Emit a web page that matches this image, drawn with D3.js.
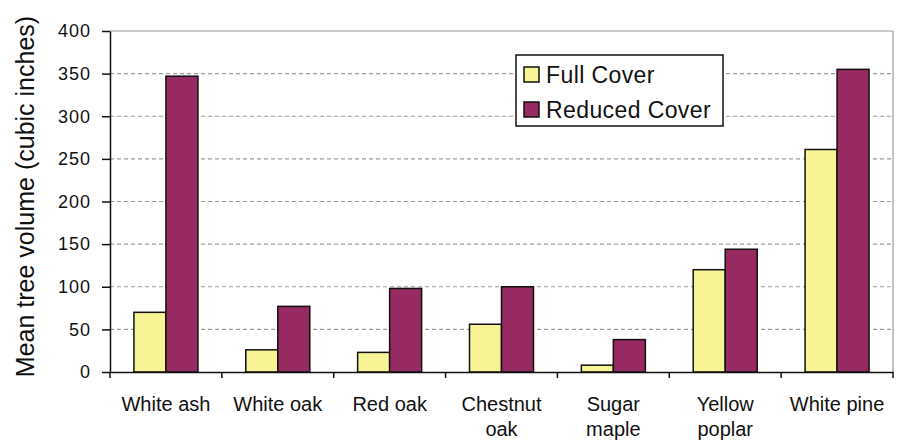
<!DOCTYPE html>
<html>
<head>
<meta charset="utf-8">
<script src="https://cdn.jsdelivr.net/npm/d3@7"></script>
<style>
  html, body { margin: 0; padding: 0; background: #fff; }
  svg { display: block; font-family: "Liberation Sans", Arial, sans-serif; }
</style>
</head>
<body>
<svg id="chart" width="898" height="440"></svg>
<script>
const categories = [["White ash"], ["White oak"], ["Red oak"], ["Chestnut", "oak"], ["Sugar", "maple"], ["Yellow", "poplar"], ["White pine"]];
const seriesNames = ["Full Cover", "Reduced Cover"];
const fullCover = [70, 26, 23, 56, 8, 120, 261];
const reducedCover = [347, 77, 98, 100, 38, 144, 355];
const yTicks = [0, 50, 100, 150, 200, 250, 300, 350, 400];
const colors = ["#F7F495", "#962A61"];

(function () {
const svg = d3.select("#chart");
const mLeft = 110, mRight = 893, mTop = 31, mBottom = 372;
const textColor = "#111";

const catKeys = categories.map(d => d.join(" "));
const x0 = d3.scaleBand().domain(catKeys).range([mLeft, mRight]).padding(0);
const bw = x0.bandwidth();
const x1 = d3.scaleBand().domain(seriesNames).range([bw / 2 - 32, bw / 2 + 32]).padding(0);
const y = d3.scaleLinear().domain([0, 400]).range([mBottom, mTop]);

// gridlines
svg.append("g").selectAll("line").data(yTicks.filter(t => t > 0 && t < 400)).join("line")
  .attr("x1", mLeft).attr("x2", mRight)
  .attr("y1", d => y(d)).attr("y2", d => y(d))
  .attr("stroke", "#9a9a9a").attr("stroke-width", 1.2).attr("stroke-dasharray", "4,3");

// plot border top and right
svg.append("line").attr("x1", mLeft).attr("x2", mRight).attr("y1", y(400)).attr("y2", y(400))
  .attr("stroke", "#9a9a9a").attr("stroke-width", 1.2);
svg.append("line").attr("x1", mRight).attr("x2", mRight).attr("y1", y(400)).attr("y2", y(0))
  .attr("stroke", "#9a9a9a").attr("stroke-width", 1.2);

// bars
const rows = catKeys.map((c, i) => ({ cat: c, values: [fullCover[i], reducedCover[i]] }));
const groups = svg.append("g").selectAll("g").data(rows).join("g")
  .attr("transform", d => `translate(${x0(d.cat)},0)`);
groups.selectAll("rect").data(d => d.values.map((v, j) => ({ key: seriesNames[j], v, j }))).join("rect")
  .attr("x", d => x1(d.key))
  .attr("width", x1.bandwidth())
  .attr("y", d => y(d.v))
  .attr("height", d => y(0) - y(d.v))
  .attr("fill", d => colors[d.j])
  .attr("stroke", "#111").attr("stroke-width", 1.5);

// y axis
const yAxis = d3.axisLeft(y).tickValues(yTicks).tickSize(8).tickSizeOuter(0).tickPadding(11);
const gy = svg.append("g").attr("transform", `translate(${mLeft},0)`).call(yAxis);
gy.select(".domain").attr("stroke", "#111").attr("stroke-width", 1.5);
gy.selectAll(".tick line").attr("stroke", "#111").attr("stroke-width", 1.5);
gy.selectAll(".tick text").attr("font-size", 18).attr("letter-spacing", "1px")
  .attr("fill", textColor).attr("font-family", "Liberation Sans, Arial, sans-serif");

// x axis
const xAxis = d3.axisBottom(x0).tickSize(0).tickSizeOuter(0).tickFormat("");
const gx = svg.append("g").attr("transform", `translate(0,${mBottom})`).call(xAxis);
gx.select(".domain").attr("stroke", "#111").attr("stroke-width", 1.5);
const bounds = catKeys.map(c => x0(c)).concat([mRight]);
gx.append("g").selectAll("line").data(bounds).join("line")
  .attr("x1", d => d).attr("x2", d => d).attr("y1", 0).attr("y2", 6)
  .attr("stroke", "#111").attr("stroke-width", 1.5);

// x labels
const xl = svg.append("g").selectAll("text").data(categories).join("text")
  .attr("x", (d, i) => x0(catKeys[i]) + bw / 2)
  .attr("y", 411)
  .attr("text-anchor", "middle")
  .attr("font-size", 20).attr("fill", textColor);
xl.selectAll("tspan").data(d => d).join("tspan")
  .attr("x", function () { return d3.select(this.parentNode).attr("x"); })
  .attr("dy", (d, i) => i === 0 ? 0 : 25)
  .text(d => d);

// y title
svg.append("text")
  .attr("transform", "translate(33.5,196.5) rotate(-90)")
  .attr("text-anchor", "middle")
  .attr("font-size", 25).attr("fill", textColor)
  .text("Mean tree volume (cubic inches)");

// legend
const lg = svg.append("g");
lg.append("rect").attr("x", 516).attr("y", 55).attr("width", 207).attr("height", 71)
  .attr("fill", "#fff").attr("stroke", "#111").attr("stroke-width", 1.5);
const items = lg.selectAll("g").data(seriesNames).join("g")
  .attr("transform", (d, i) => `translate(524,${67 + i * 35})`);
items.append("rect").attr("width", 15).attr("height", 15)
  .attr("fill", (d, i) => colors[i]).attr("stroke", "#111").attr("stroke-width", 1.5);
items.append("text").attr("x", 22).attr("y", 15.5)
  .attr("font-size", 23).attr("letter-spacing", "0.4px").attr("fill", textColor)
  .text(d => d);
})();
</script>
</body>
</html>
